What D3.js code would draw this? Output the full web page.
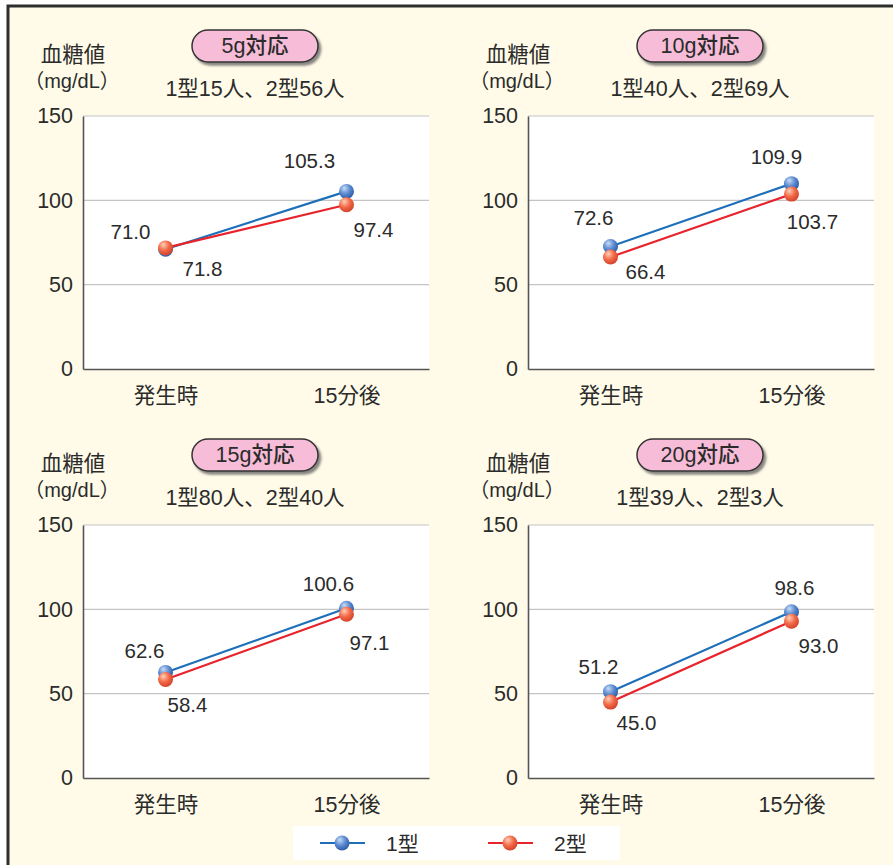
<!DOCTYPE html>
<html>
<head>
<meta charset="utf-8">
<script src="https://cdn.jsdelivr.net/npm/d3@7"></script>
<style>
  html, body { margin: 0; padding: 0; background: #ffffff; }
  svg { display: block; }
  text { font-family: "Liberation Sans", "Noto Sans CJK JP", sans-serif; fill: #2b2b2b; }
</style>
</head>
<body>
<svg id="chart" width="893" height="865"></svg>
<script>
// Blood glucose before / 15 minutes after treatment, by amount of glucose taken
const panelTitles = ["5g対応", "10g対応", "15g対応", "20g対応"];
const panelCounts = ["1型15人、2型56人", "1型40人、2型69人", "1型80人、2型40人", "1型39人、2型3人"];
const timePoints = ["発生時", "15分後"];
const type1Values = [[71.0, 105.3], [72.6, 109.9], [62.6, 100.6], [51.2, 98.6]];
const type2Values = [[71.8, 97.4], [66.4, 103.7], [58.4, 97.1], [45.0, 93.0]];
const yTicks = [0, 50, 100, 150];
const seriesNames = ["1型", "2型"];

// Label placement (dx, dy of text centre from the marker) per panel: [series][point]
const labelOffsets = [
  [[[-35, -18], [-37, -31]], [[37, 21], [27, 25]]],
  [[[-17, -29], [-15, -27]], [[35, 14], [21, 27]]],
  [[[-21, -22], [-18, -25]], [[22, 25], [23, 28]]],
  [[[-12, -25], [3, -24]],   [[26, 20], [27, 24]]]
];

const svg = d3.select("#chart");
const W = 893, H = 865;

// Frame
svg.append("rect").attr("x", 8).attr("y", 6).attr("width", W + 20).attr("height", H + 20)
  .attr("fill", "#fffbe8").attr("stroke", "#2e2e2e").attr("stroke-width", 3);

// Sphere gradients for markers
const defs = svg.append("defs");
function sphere(id, light, mid, dark) {
  const g = defs.append("radialGradient").attr("id", id)
    .attr("cx", "40%").attr("cy", "35%").attr("r", "65%").attr("fx", "35%").attr("fy", "28%");
  g.append("stop").attr("offset", "0%").attr("stop-color", light);
  g.append("stop").attr("offset", "55%").attr("stop-color", mid);
  g.append("stop").attr("offset", "100%").attr("stop-color", dark);
}
sphere("ballBlue", "#c9dcf5", "#5b8bd0", "#2f5ea8");
sphere("ballRed", "#ffd0b8", "#f26a48", "#d4432c");
const shadow = defs.append("filter").attr("id", "badgeShadow").attr("x", "-10%").attr("y", "-20%").attr("width", "130%").attr("height", "160%");
shadow.append("feDropShadow").attr("dx", 2.5).attr("dy", 3).attr("stdDeviation", 1.2).attr("flood-color", "#555").attr("flood-opacity", 0.7);

const series = [
  { name: seriesNames[0], values: type1Values, line: "#1d6fba", ball: "url(#ballBlue)" },
  { name: seriesNames[1], values: type2Values, line: "#e8232b", ball: "url(#ballRed)" }
];

const plotW = 346, plotH = 253;
const origins = [[83, 116], [528, 116], [83, 525], [528, 525]];

const x = d3.scalePoint().domain(timePoints).range([0, plotW]).padding(0.456);
const y = d3.scaleLinear().domain([0, 150]).range([plotH, 0]);

const numFont = "Liberation Sans, sans-serif";
const jpFont = "Liberation Sans, Noto Sans CJK JP, sans-serif";

panelTitles.forEach((title, i) => {
  const [ox, oy] = origins[i];
  const g = svg.append("g").attr("transform", `translate(${ox},${oy})`);

  // Plot background
  g.append("rect").attr("width", plotW).attr("height", plotH).attr("fill", "#ffffff");

  // Gridlines
  g.append("g").selectAll("line").data(yTicks.filter(t => t > 0)).join("line")
    .attr("x1", 0).attr("x2", plotW).attr("y1", d => y(d)).attr("y2", d => y(d))
    .attr("stroke", "#c4c4c4").attr("stroke-width", 1.2);

  // Y axis
  const yAxis = g.append("g").call(d3.axisLeft(y).tickValues(yTicks).tickSize(0).tickPadding(10));
  yAxis.select(".domain").attr("stroke", "#555").attr("stroke-width", 1.6);
  yAxis.selectAll("text").attr("font-size", 21.5).attr("fill", "#2b2b2b")
    .attr("font-family", numFont);

  // X axis
  const xAxis = g.append("g").attr("transform", `translate(0,${plotH})`)
    .call(d3.axisBottom(x).tickSize(0).tickPadding(19));
  xAxis.select(".domain").attr("stroke", "#555").attr("stroke-width", 1.6);
  xAxis.selectAll("text").attr("font-size", 21.5).attr("fill", "#2b2b2b")
    .attr("font-family", jpFont);

  // Lines and markers
  series.forEach((s) => {
    const vals = s.values[i];
    const pts = timePoints.map((t, k) => [x(t), y(vals[k])]);
    g.append("path").attr("d", d3.line()(pts)).attr("fill", "none")
      .attr("stroke", s.line).attr("stroke-width", 2.2);
  });
  series.forEach((s) => {
    const vals = s.values[i];
    g.append("g").selectAll("circle").data(vals).join("circle")
      .attr("cx", (d, k) => x(timePoints[k])).attr("cy", d => y(d)).attr("r", 7.5)
      .attr("fill", s.ball);
  });
  // Value labels
  series.forEach((s, si) => {
    const vals = s.values[i];
    g.append("g").selectAll("text").data(vals).join("text")
      .attr("x", (d, k) => x(timePoints[k]) + labelOffsets[i][si][k][0])
      .attr("y", (d, k) => y(d) + labelOffsets[i][si][k][1])
      .attr("text-anchor", "middle").attr("dominant-baseline", "central")
      .attr("font-size", 20.5).text(d => d.toFixed(1));
  });

  // Y axis title
  g.append("text").attr("x", -10).attr("y", -54).attr("text-anchor", "middle")
    .attr("font-size", 21.5).text("血糖値");
  g.append("text").attr("x", -11).attr("y", -28).attr("text-anchor", "middle")
    .attr("font-size", 20).text("（mg/dL）");

  // Badge
  const cx = plotW / 2 - 1;
  const bw = 126, bh = 32;
  g.append("rect").attr("x", cx - bw / 2).attr("y", -86).attr("width", bw).attr("height", bh)
    .attr("rx", 16).attr("fill", "#f7bdd8").attr("stroke", "#333").attr("stroke-width", 1.5)
    .attr("filter", "url(#badgeShadow)");
  g.append("text").attr("x", cx).attr("y", -70).attr("text-anchor", "middle")
    .attr("dominant-baseline", "central").attr("font-size", 21.5).attr("font-weight", 500)
    .text(title);

  // Counts
  g.append("text").attr("x", cx).attr("y", -20).attr("text-anchor", "middle")
    .attr("font-size", 21.5).text(panelCounts[i]);
});

// Legend
const lg = svg.append("g").attr("transform", "translate(293,826)");
lg.append("rect").attr("width", 327).attr("height", 34).attr("fill", "#ffffff");
series.forEach((s, si) => {
  const ox = 27 + si * 168;
  lg.append("line").attr("x1", ox).attr("x2", ox + 45).attr("y1", 17).attr("y2", 17)
    .attr("stroke", s.line).attr("stroke-width", 2.2);
  lg.append("circle").attr("cx", ox + 22).attr("cy", 17).attr("r", 7.5).attr("fill", s.ball);
  lg.append("text").attr("x", ox + 66).attr("y", 17).attr("dominant-baseline", "central")
    .attr("font-size", 21).text(s.name);
});
</script>
</body>
</html>
